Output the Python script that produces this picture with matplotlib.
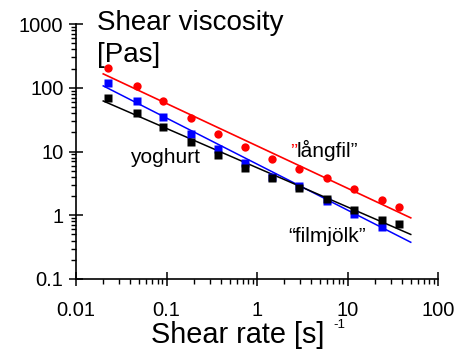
import numpy as np
import matplotlib
matplotlib.use("Agg")
import matplotlib.pyplot as plt

plt.rcParams['font.family'] = ['Liberation Sans', 'DejaVu Sans']

# shear rates (1/s) and measured viscosities (Pas)
rate = [0.0226, 0.047, 0.091, 0.187, 0.37, 0.74, 1.47, 2.9, 5.9, 11.8, 24, 37]
langfil = [203, 108, 62, 33, 18.7, 11.6, 7.6, 5.4, 3.8, 2.58, 1.73, 1.36]
filmjolk = [118, 62, 35, 18.5, 10.9, 6.7, 4.0, 2.9, 1.67, 1.06, 0.65]
yoghurt = [68, 40, 24.4, 14.2, 8.7, 5.6, 3.9, 2.67, 1.77, 1.23, 0.85, 0.72]

# power law fit lines, end points
fit_x = [0.02, 50]
fit_langfil = [165, 0.91]
fit_filmjolk = [107, 0.377]
fit_yoghurt = [62, 0.50]

W, H = 462, 351
fig = plt.figure(figsize=(W / 100, H / 100), dpi=100)
ax = fig.add_axes([76 / W, 1 - 279 / H, (438 - 76) / W, (279 - 24) / H])

ax.plot(fit_x, fit_langfil, color='red', lw=1.2)
ax.plot(fit_x, fit_filmjolk, color='blue', lw=1.1)
ax.plot(fit_x, fit_yoghurt, color='black', lw=1.1)
ax.plot(rate[:len(filmjolk)], filmjolk, 's', color='blue', ms=5.5, mec='none')
ax.plot(rate, yoghurt, 's', color='black', ms=5.5, mec='none')
ax.plot(rate, langfil, 'o', color='red', ms=6, mec='none')

ax.set_xscale('log')
ax.set_yscale('log')
ax.set_xlim(0.01, 100)
ax.set_ylim(0.1, 1000)
ax.set_xticks([0.01, 0.1, 1, 10, 100])
ax.set_xticklabels(['0.01', '0.1', '1', '10', '100'])
ax.set_yticks([0.1, 1, 10, 100, 1000])
ax.set_yticklabels(['0.1', '1', '10', '100', '1000'])
ax.xaxis.set_minor_locator(matplotlib.ticker.LogLocator(base=10, subs=np.arange(2, 10)))
ax.yaxis.set_minor_locator(matplotlib.ticker.LogLocator(base=10, subs=np.arange(2, 10)))
ax.xaxis.set_minor_formatter(matplotlib.ticker.NullFormatter())
ax.yaxis.set_minor_formatter(matplotlib.ticker.NullFormatter())

ax.spines['top'].set_visible(False)
ax.spines['right'].set_visible(False)
for s in ['left', 'bottom']:
    ax.spines[s].set_linewidth(1.2)
ax.tick_params(which='major', direction='inout', length=10, width=1.1, labelsize=14.5)
ax.tick_params(which='minor', direction='out', length=3.8, width=1.0)
ax.tick_params(axis='x', which='major', pad=11)
ax.tick_params(axis='y', which='major', pad=4)

def txt(x, y, s, **kw):
    fig.text(x / W, 1 - y / H, s, va='baseline', ha='left', **kw)

txt(97, 30, 'Shear viscosity', fontsize=20)
txt(97, 62, '[Pas]', fontsize=20)
txt(130, 163, 'yoghurt', fontsize=15)
txt(290, 157, '\u201d', fontsize=15, color='red')
txt(297, 157, 'långfil\u201d', fontsize=15)
txt(288, 242, '\u201cfilmjölk\u201d', fontsize=15)
txt(151, 343, 'Shear rate [s]', fontsize=20.8)
txt(333, 328.5, '-1', fontsize=9.5)

fig.savefig('out.png', dpi=100)
